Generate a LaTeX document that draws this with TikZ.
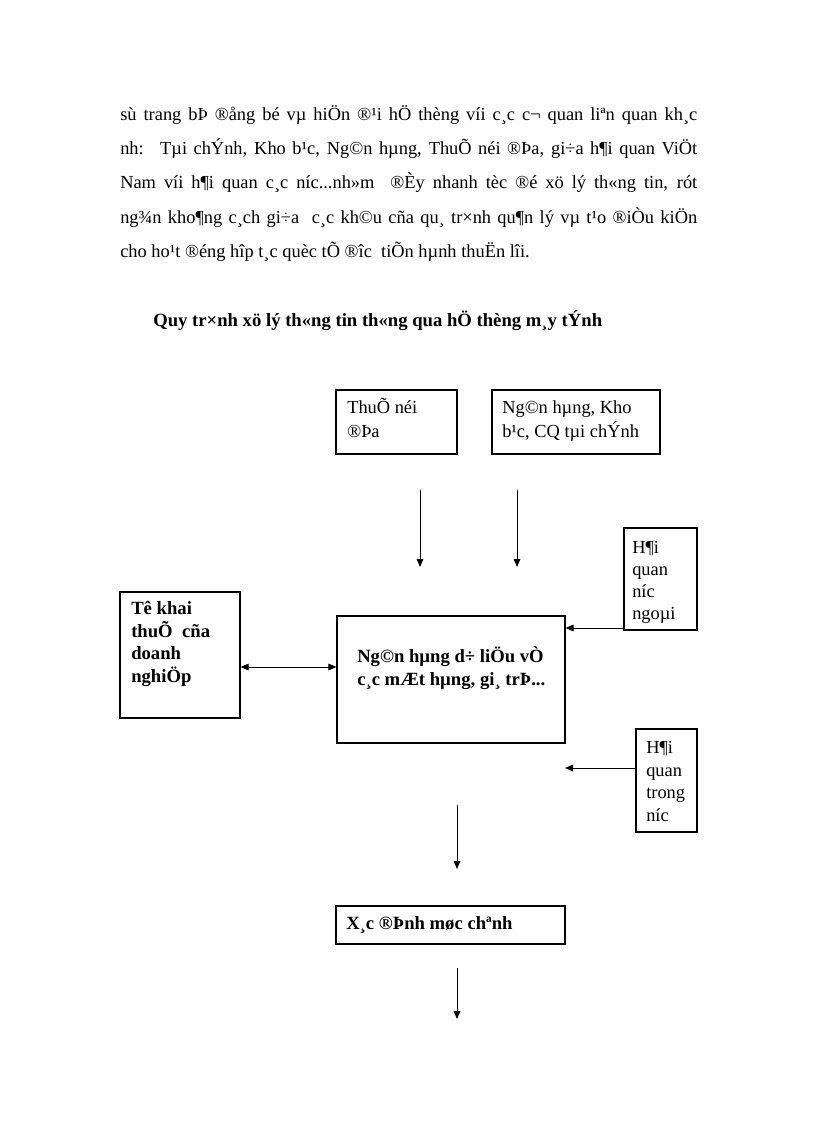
\documentclass[tikz,border=0pt]{standalone}
\usepackage{fontspec}
\setmainfont{Liberation Serif}
\usetikzlibrary{arrows.meta,fit}
\newdimen\pxu \pxu=0.75pt
\begin{document}
\begin{tikzpicture}[x=0.75pt,y=-0.75pt,
  font=\fontsize{13.8}{16.9}\selectfont,
  box/.style={draw, line width=0.9pt, inner sep=0pt},
  txt/.style={anchor=base west, inner sep=0pt},
  btxt/.style={txt, font=\fontsize{14}{16.9}\selectfont\bfseries},
  arr/.style={line width=0.7pt, -{Triangle[length=6pt,width=5pt]}},
  darr/.style={line width=0.7pt, {Triangle[length=6pt,width=5pt]}-{Triangle[length=6pt,width=5pt]}}]
\fill[white] (0,0) rectangle (816,1123);
\useasboundingbox (0,0) rectangle (816,1123);

% paragraph
\node[txt] (p1) at (120,120.5) {\makebox[577\pxu][s]{sù trang bÞ ®ång bé vµ hiÖn ®¹i hÖ thèng víi c¸c c¬ quan liªn quan kh¸c}};
\node[txt] (p2) at (120,154.8) {\makebox[577\pxu][s]{nh: \ Tµi chÝnh, Kho b¹c, Ng©n hµng, ThuÕ néi ®Þa, gi÷a h¶i quan ViÖt}};
\node[txt] (p3) at (120,189) {\makebox[577\pxu][s]{Nam víi h¶i quan c¸c níc...nh»m \ ®Èy nhanh tèc ®é xö lý th«ng tin, rót}};
\node[txt] (p4) at (120,223.3) {\makebox[577\pxu][s]{ng¾n kho¶ng c¸ch gi÷a \ c¸c kh©u cña qu¸ tr×nh qu¶n lý vµ t¹o ®iÒu kiÖn}};
\node[txt] (p5) at (120,257.5) {cho ho¹t ®éng hîp t¸c quèc tÕ ®îc \ tiÕn hµnh thuËn lîi.};

% title
\node[btxt] (title) at (153,326) {Quy tr×nh xö lý th«ng tin th«ng qua hÖ thèng m¸y tÝnh};

% boxes
\node[box, fit={(336,390) (457,454)}] (thue) {};
\node[box, fit={(492,390) (660,454)}] (nganhang) {};
\node[box, fit={(624,528) (697,630)}] (ngoai) {};
\node[box, fit={(120,592) (240,718)}] (tokhai) {};
\node[box, fit={(337,616) (565,743)}] (centre) {};
\node[box, fit={(636,729) (697,832)}] (trong) {};
\node[box, fit={(336,906) (565,944)}] (xacdinh) {};

% box texts
\node[txt] (thueA) at (347,413) {ThuÕ néi};
\node[txt] (thueB) at (347,437) {®Þa};
\node[txt] (ngA) at (502,413) {Ng©n hµng, Kho};
\node[txt] (ngB) at (502,437) {b¹c, CQ tµi chÝnh};
\node[txt] (ngoA) at (632,553) {H¶i};
\node[txt] (ngoB) at (632,575) {quan};
\node[txt] (ngoC) at (632,597) {níc};
\node[txt] (ngoD) at (632,619) {ngoµi};
\node[btxt] (tkA) at (131,614) {Tê khai};
\node[btxt] (tkB) at (131,637) {thuÕ \ cña};
\node[btxt] (tkC) at (131,659) {doanh};
\node[btxt] (tkD) at (131,682) {nghiÖp};
\node[btxt] (ceA) at (357,662) {Ng©n hµng d÷ liÖu vÒ};
\node[btxt] (ceB) at (357,685) {c¸c mÆt hµng, gi¸ trÞ...};
\node[txt] (trA) at (646,753) {H¶i};
\node[txt] (trB) at (646,776) {quan};
\node[txt] (trC) at (646,798) {trong};
\node[txt] (trD) at (646,821) {níc};
\node[btxt] (xdA) at (346,929) {X¸c ®Þnh møc chªnh};

% connectors
\coordinate (a1s) at (420,490); \coordinate (a1e) at (420,567);
\coordinate (a2s) at (517,490); \coordinate (a2e) at (517,567);
\draw[arr] (a1s) -- (a1e);
\draw[arr] (a2s) -- (a2e);
\coordinate (ydbl) at (0,667);
\draw[darr] (tokhai.east |- ydbl) -- (centre.west |- ydbl);
\coordinate (yngo) at (0,628);
\draw[arr] (ngoai.west |- yngo) -- (centre.east |- yngo);
\coordinate (trEnd) at (565,768);
\draw[arr] (trong.west |- trEnd) -- (trEnd);
\coordinate (a3s) at (457,805); \coordinate (a3e) at (457,869);
\draw[arr] (a3s) -- (a3e);
\coordinate (a4s) at (457,968); \coordinate (a4e) at (457,1019);
\draw[arr] (a4s) -- (a4e);
\end{tikzpicture}
\end{document}
